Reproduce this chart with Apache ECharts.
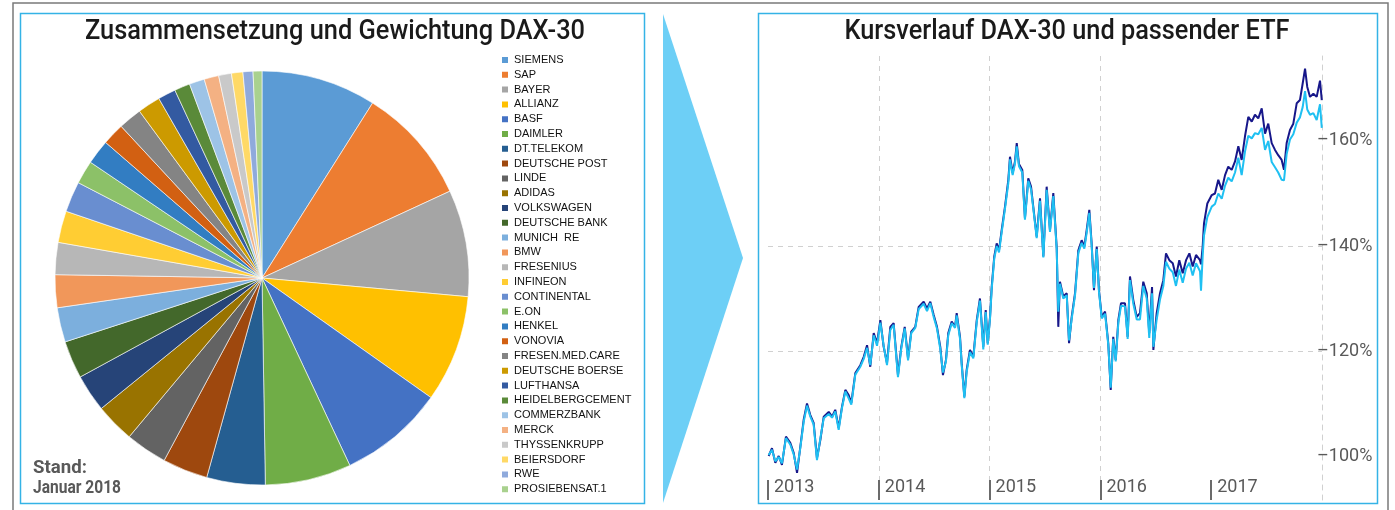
<!DOCTYPE html>
<html>
<head>
<meta charset="utf-8">
<title>DAX-30 Zusammensetzung und Kursverlauf</title>
<script src="https://cdn.jsdelivr.net/npm/echarts@6/dist/echarts.min.js"></script>
<style>
  html, body { margin: 0; padding: 0; background: #fff; }
  #chart { width: 1395px; height: 510px; }
</style>
</head>
<body>
<div id="chart"></div>
<script>
// index weights, Stand Januar 2018 (%)
const companies = [
  "SIEMENS", "SAP", "BAYER", "ALLIANZ", "BASF", "DAIMLER", "DT.TELEKOM",
  "DEUTSCHE POST", "LINDE", "ADIDAS", "VOLKSWAGEN", "DEUTSCHE BANK",
  "MUNICH  RE", "BMW", "FRESENIUS", "INFINEON", "CONTINENTAL", "E.ON",
  "HENKEL", "VONOVIA", "FRESEN.MED.CARE", "DEUTSCHE BOERSE", "LUFTHANSA",
  "HEIDELBERGCEMENT", "COMMERZBANK", "MERCK", "THYSSENKRUPP", "BEIERSDORF",
  "RWE", "PROSIEBENSAT.1"
];
const weights = [
  8.97, 9.14, 8.33, 8.36, 8.22, 6.72, 4.56, 3.53, 3.25, 3.06,
  2.92, 2.94, 2.69, 2.56, 2.50, 2.47, 2.39, 1.83, 1.92, 1.72,
  1.83, 1.78, 1.39, 1.22, 1.19, 1.14, 1.00, 0.89, 0.78, 0.69
];
const companyColors = [
  "#5b9bd5", "#ed7d31", "#a5a5a5", "#ffc000", "#4472c4", "#70ad47", "#255e91",
  "#9e480e", "#636363", "#997300", "#264478", "#43682b", "#7cafdd", "#f1975a",
  "#b7b7b7", "#ffcd33", "#698ed0", "#8cc168", "#327dc2", "#d26012", "#848484",
  "#cc9a00", "#335aa1", "#5a8a39", "#9dc3e6", "#f4b183", "#c9c9c9", "#ffd966",
  "#8faadc", "#a9d18e"
];

// Kursverlauf, start 2013 = 100 % (x in decimal years)
const yearPos = [
  2013.006, 2013.036, 2013.066, 2013.097, 2013.126, 2013.162, 2013.201, 2013.232, 2013.262, 2013.292,
  2013.322, 2013.352, 2013.382, 2013.412, 2013.442, 2013.472, 2013.503, 2013.548, 2013.578, 2013.607,
  2013.638, 2013.668, 2013.698, 2013.728, 2013.752, 2013.788, 2013.833, 2013.864, 2013.894, 2013.923,
  2013.954, 2013.984,
  2014.014, 2014.044, 2014.074, 2014.104, 2014.134, 2014.173, 2014.203, 2014.234, 2014.264, 2014.293,
  2014.329, 2014.360, 2014.405, 2014.435, 2014.465, 2014.495, 2014.525, 2014.555, 2014.579, 2014.606,
  2014.627, 2014.658, 2014.688, 2014.703, 2014.733, 2014.748, 2014.772, 2014.793, 2014.823, 2014.853,
  2014.884, 2014.913, 2014.943, 2014.965, 2014.983,
  2015.004, 2015.019, 2015.042, 2015.064, 2015.085, 2015.109, 2015.139, 2015.169, 2015.184, 2015.208,
  2015.229, 2015.245, 2015.265, 2015.295, 2015.319, 2015.349, 2015.374, 2015.394, 2015.425, 2015.455,
  2015.485, 2015.515, 2015.545, 2015.575, 2015.606, 2015.620, 2015.635, 2015.665, 2015.696, 2015.717,
  2015.741, 2015.771, 2015.801, 2015.831, 2015.855, 2015.876, 2015.900, 2015.921, 2015.942, 2015.967,
  2015.987,
  2016.012, 2016.042, 2016.071, 2016.093, 2016.116, 2016.138, 2016.162, 2016.186, 2016.222, 2016.246,
  2016.267, 2016.297, 2016.328, 2016.357, 2016.387, 2016.418, 2016.441, 2016.466, 2016.478, 2016.508,
  2016.538, 2016.568, 2016.592, 2016.622, 2016.653, 2016.682, 2016.712, 2016.743, 2016.773, 2016.803,
  2016.833, 2016.863, 2016.899, 2016.908, 2016.923, 2016.935, 2016.965,
  2017.005, 2017.034, 2017.064, 2017.095, 2017.125, 2017.154, 2017.185, 2017.215, 2017.245, 2017.275,
  2017.305, 2017.335, 2017.366, 2017.395, 2017.425, 2017.456, 2017.486, 2017.515, 2017.546, 2017.576,
  2017.605, 2017.636, 2017.657, 2017.681, 2017.711, 2017.741, 2017.772, 2017.801, 2017.826, 2017.847,
  2017.867, 2017.892, 2017.922, 2017.952, 2017.982, 2017.998
];
const daxValues = [
  100.0, 101.5, 98.7, 100.0, 98.3, 103.7, 102.5, 100.6, 96.8, 101.8,
  106.9, 110.0, 107.8, 106.3, 99.6, 103.0, 107.5, 108.4, 107.5, 108.8,
  105.3, 109.4, 112.6, 111.6, 110.1, 115.8, 117.3, 118.9, 121.1, 117.0,
  123.4, 121.5,
  125.9, 120.8, 117.7, 124.6, 125.3, 115.4, 120.8, 124.6, 118.6, 123.7,
  124.6, 128.4, 129.4, 128.1, 129.4, 126.9, 124.6, 120.8, 115.4, 118.3,
  123.4, 125.6, 124.6, 127.2, 122.7, 117.7, 111.3, 116.4, 120.2, 118.9,
  125.9, 130.0, 120.8, 127.8, 121.5,
  126.5, 132.2, 138.0, 140.5, 139.2, 143.0, 147.5, 152.6, 157.0, 153.9,
  156.1, 159.6, 155.6, 154.5, 145.3, 152.9, 151.3, 147.5, 141.8, 149.1,
  138.0, 151.3, 143.0, 150.1, 139.5, 124.6, 133.2, 130.4, 131.0, 121.5,
  126.5, 131.0, 139.2, 141.1, 139.9, 143.0, 146.9, 140.5, 131.6, 139.9,
  131.6,
  126.5, 127.5, 121.5, 112.6, 122.7, 118.3, 125.9, 129.1, 129.1, 122.7,
  134.2, 129.7, 126.5, 127.2, 133.2, 131.0, 123.4, 132.2, 120.2, 127.2,
  131.0, 133.5, 138.6, 137.3, 136.7, 134.2, 137.3, 134.8, 137.3, 138.6,
  136.1, 138.3, 137.3, 136.5, 139.9, 144.3, 148.1,
  149.7, 150.0, 152.6, 150.7, 153.5, 155.1, 154.5, 156.1, 159.0, 156.4,
  160.9, 164.6, 163.7, 165.0, 164.3, 166.2, 161.4, 163.3, 159.6, 158.3,
  157.3, 156.4, 154.5, 159.6, 162.1, 163.3, 167.2, 167.8, 171.0, 173.8,
  170.3, 168.4, 169.0, 168.4, 171.5, 167.8
];
const etfValues = [
  100.2, 101.2, 99.0, 99.8, 98.6, 103.4, 102.2, 100.3, 97.4, 101.6,
  106.5, 109.6, 107.5, 106.0, 99.2, 103.3, 107.2, 108.0, 107.3, 108.5,
  105.0, 109.2, 112.3, 111.0, 109.8, 115.5, 117.0, 118.5, 120.6, 117.3,
  123.0, 121.0,
  125.4, 121.0, 117.3, 124.0, 125.0, 115.0, 120.5, 124.3, 118.2, 123.4,
  124.4, 128.0, 129.0, 127.6, 129.1, 126.5, 124.3, 120.3, 115.9, 118.0,
  123.0, 125.3, 124.4, 126.8, 122.3, 117.4, 111.0, 116.0, 119.8, 118.6,
  125.5, 129.6, 120.3, 127.4, 121.2,
  126.2, 131.8, 137.6, 140.0, 138.8, 142.6, 147.1, 152.0, 156.5, 153.5,
  155.7, 159.0, 155.2, 154.0, 145.0, 152.4, 150.8, 147.2, 141.5, 148.6,
  137.8, 150.7, 142.7, 149.5, 139.2, 127.5, 132.8, 130.0, 130.6, 122.0,
  126.1, 130.6, 138.7, 140.6, 139.5, 142.5, 146.3, 140.1, 132.0, 139.4,
  131.3,
  126.2, 127.1, 121.2, 113.0, 122.3, 118.0, 125.4, 128.6, 128.5, 122.3,
  133.5, 129.0, 126.0, 126.0, 132.4, 130.0, 122.5, 131.0, 120.8, 126.0,
  129.8, 132.4, 137.0, 135.7, 135.0, 132.4, 135.5, 133.0, 135.7, 136.8,
  134.4, 136.7, 135.2, 131.5, 138.0, 142.0, 145.5,
  147.5, 148.0, 150.0, 149.0, 151.5, 153.0, 152.3, 154.0, 156.8, 153.5,
  158.0, 161.0, 160.5, 161.5, 161.3, 162.5, 158.3, 160.0, 156.0, 155.0,
  154.0, 152.6, 152.5, 157.5, 160.3, 161.3, 163.5, 164.5, 166.5, 169.5,
  166.0, 165.0, 165.3, 164.0, 167.0, 162.5
];

const yearTicks = [2013, 2014, 2015, 2016, 2017];
const pctTicks = [100, 120, 140, 160];

const leftTitle = "Zusammensetzung und Gewichtung DAX-30";
const rightTitle = "Kursverlauf DAX-30 und passender ETF";

const sans = "Roboto, 'Liberation Sans', sans-serif";
const panelBlue = "#34b3e6";
const gridGray = "#d0d0d0";
const labelGray = "#595959";

// no condensed font is installed, so squeeze a normal one to the target width
const measureCtx = document.createElement("canvas").getContext("2d");
function squeeze(text, size, weight, targetWidth) {
  measureCtx.font = weight + " " + size + "px Roboto";
  return targetWidth / measureCtx.measureText(text).width;
}

function squeezedText(text, x, y, size, weight, color, targetWidth, align) {
  return {
    type: "text",
    x: x,
    y: y,
    scaleX: squeeze(text, size, weight, targetWidth),
    silent: true,
    style: {
      text: text,
      x: 0,
      y: 0,
      textAlign: align,
      textVerticalAlign: "middle",
      fontFamily: sans,
      fontSize: size,
      fontWeight: weight,
      fill: color
    }
  };
}

const chart = echarts.init(document.getElementById("chart"), null, { renderer: "canvas" });

const option = {
  animation: false,
  backgroundColor: "#fff",
  legend: {
    data: companies,
    orient: "vertical",
    left: 500,
    top: 54,
    padding: 0,
    icon: "rect",
    itemWidth: 8,
    itemHeight: 8,
    itemGap: 2.8,
    selectedMode: false,
    textStyle: { fontFamily: "'Liberation Sans', Arial, sans-serif", fontSize: 11, lineHeight: 12, color: "#111" }
  },
  grid: { left: 768, right: 73, top: 56, bottom: 10 },
  xAxis: {
    type: "value",
    min: 2013,
    max: 2018,
    interval: 1,
    axisLine: { show: false },
    axisTick: {
      show: true,
      inside: true,
      length: 20,
      customValues: yearTicks,
      lineStyle: { color: "#6b6b6b", width: 2 }
    },
    axisLabel: {
      inside: true,
      margin: 4,
      customValues: yearTicks,
      formatter: (v) => String(v),
      align: "left",
      padding: [0, 0, 0, 6],
      fontFamily: sans,
      fontSize: 18,
      color: labelGray
    },
    splitLine: {
      show: true,
      showMinLine: false,
      showMaxLine: false,
      lineStyle: { color: gridGray, type: [5, 5] }
    }
  },
  yAxis: {
    type: "value",
    position: "right",
    min: 91.62,
    max: 176.19,
    axisLine: { show: true, lineStyle: { color: gridGray, type: [5, 5] } },
    axisTick: { show: false, customValues: pctTicks },
    axisLabel: {
      customValues: pctTicks,
      margin: -5,
      formatter: (v) => "\u2013" + v + "%",
      fontFamily: sans,
      fontSize: 18,
      color: labelGray
    },
    splitLine: {
      show: true,
      showMinLine: false,
      showMaxLine: false,
      lineStyle: { color: gridGray, type: [5, 5] }
    }
  },
  graphic: [
    {
      type: "rect",
      shape: { x: 13, y: 3, width: 1375, height: 530 },
      style: { fill: "none", stroke: "#7a7a7a", lineWidth: 1.5 },
      silent: true
    },
    {
      type: "rect",
      shape: { x: 20.5, y: 13.5, width: 624, height: 490 },
      style: { fill: "none", stroke: panelBlue, lineWidth: 1.5 },
      silent: true
    },
    {
      type: "rect",
      shape: { x: 758.5, y: 13.5, width: 619, height: 490 },
      style: { fill: "none", stroke: panelBlue, lineWidth: 1.5 },
      silent: true
    },
    {
      type: "polygon",
      shape: { points: [[663, 14], [743, 258], [663, 503]] },
      style: { fill: "#6dcff6" },
      silent: true
    },
    squeezedText(leftTitle, 335, 32, 28, "500", "#1a1a1a", 500, "center"),
    squeezedText(rightTitle, 1067, 32, 28, "500", "#1a1a1a", 445, "center"),
    squeezedText("Stand:", 33, 468, 19, "bold", labelGray, 54, "left"),
    squeezedText("Januar 2018", 33, 488, 19, "bold", labelGray, 88, "left")
  ],
  series: [
    {
      type: "pie",
      name: "Gewichtung",
      center: [262, 278],
      radius: 207,
      startAngle: 90,
      clockwise: true,
      label: { show: false },
      labelLine: { show: false },
      emphasis: { disabled: true },
      itemStyle: { borderColor: "#ffffff", borderWidth: 0.6 },
      data: companies.map((name, i) => ({
        name: name,
        value: weights[i],
        itemStyle: { color: companyColors[i] }
      }))
    },
    {
      type: "line",
      name: "DAX-30",
      data: yearPos.map((t, i) => [t, daxValues[i]]),
      showSymbol: false,
      lineStyle: { color: "#17178a", width: 2 },
      itemStyle: { color: "#17178a" },
      z: 3
    },
    {
      type: "line",
      name: "ETF",
      data: yearPos.map((t, i) => [t, etfValues[i]]),
      showSymbol: false,
      lineStyle: { color: "#1fc0f2", width: 2 },
      itemStyle: { color: "#1fc0f2" },
      z: 4
    }
  ]
};

chart.setOption(option);
</script>
</body>
</html>
